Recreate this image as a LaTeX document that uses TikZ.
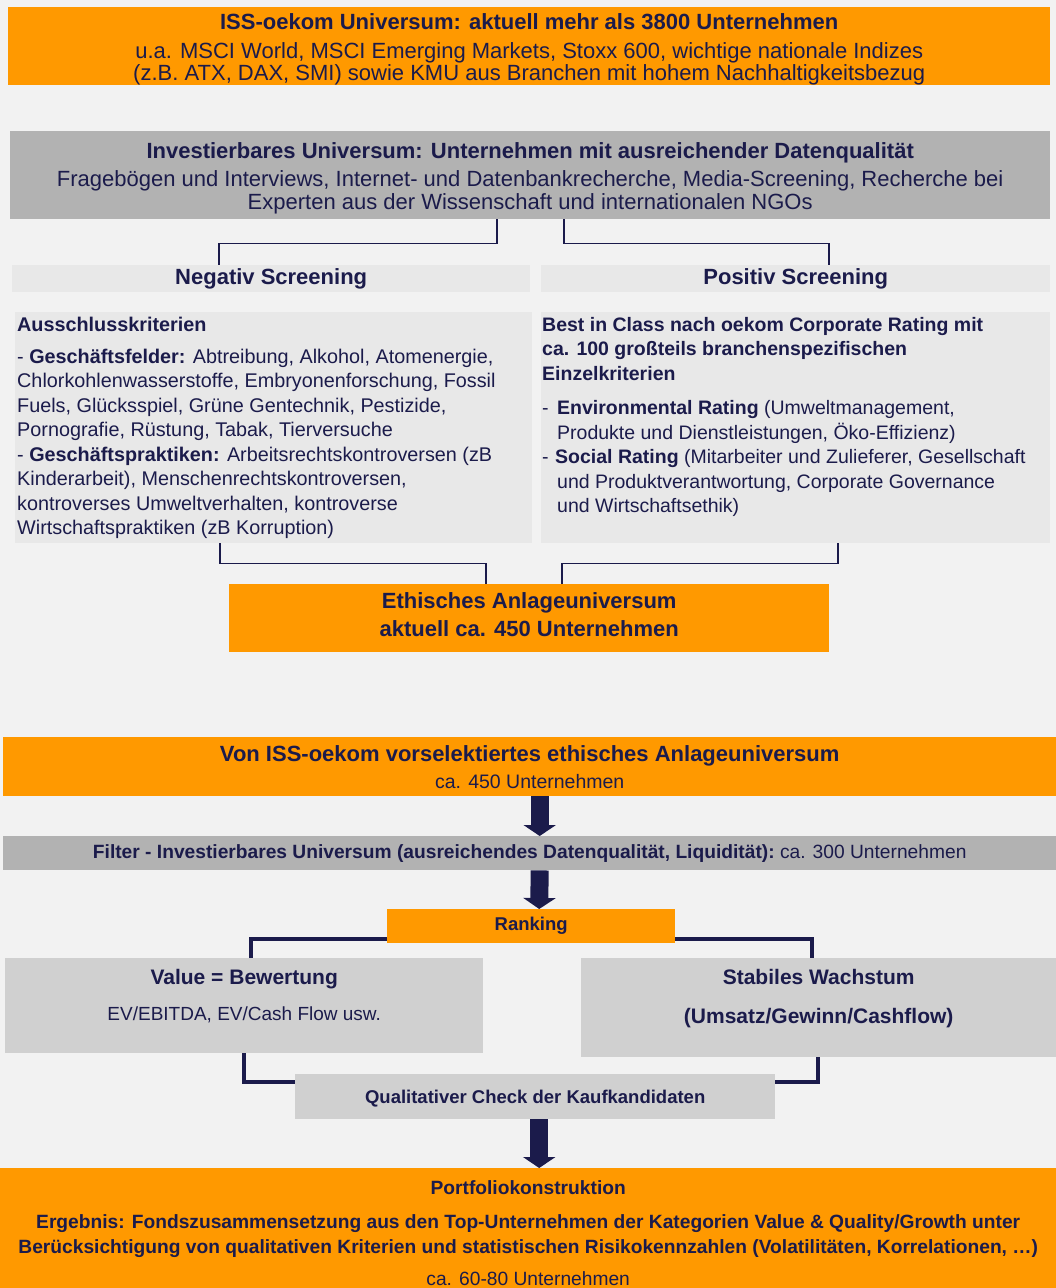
\documentclass[tikz,border=0pt]{standalone}
\usepackage{fontspec}
\setmainfont{Liberation Sans}
\usetikzlibrary{arrows.meta,calc}
\definecolor{org}{HTML}{FF9900}
\definecolor{gA}{HTML}{B2B2B2}
\definecolor{gL}{HTML}{E8E8E8}
\definecolor{gM}{HTML}{D0D0D0}
\definecolor{bgc}{HTML}{F2F2F2}
\definecolor{navy}{HTML}{1B1B4B}
\newcommand\fsz[2]{\fontsize{#1}{#2}\selectfont}
\begin{document}
\begin{tikzpicture}[x=1pt,y=-1pt,
  box/.style={anchor=north west, inner sep=0pt, text=navy, align=center},
  lbl/.style={inner sep=0pt, text=navy},
  thinline/.style={draw=navy, line width=1.8pt},
  thickline/.style={draw=navy, line width=4pt},
  bigarrow/.style={draw=navy, line width=18pt, -{Triangle[width=32pt,length=11pt]}}]
\fill[bgc] (0,0) rectangle (1056,1288);
\useasboundingbox (0,0) rectangle (1056,1288);

% ---------- upper part ----------
\node[box, fill=org, minimum width=1042, minimum height=78] (iss) at (8,7) {};
\node[lbl, align=center, font=\fsz{22}{22}] (isstxt) at ($(iss.center)+(0,3)$)
 {\bfseries ISS-oekom Universum: aktuell mehr als 3800 Unternehmen\\[7pt]
  u.a. MSCI World, MSCI Emerging Markets, Stoxx 600, wichtige nationale Indizes\\
  (z.B. ATX, DAX, SMI) sowie KMU aus Branchen mit hohem Nachhaltigkeitsbezug};

\node[box, fill=gA, minimum width=1040, minimum height=88] (inv) at (10,131) {};
\node[lbl, align=center, font=\fsz{22}{23}] (invtxt) at ($(inv.center)+(0,3)$)
 {\bfseries Investierbares Universum: Unternehmen mit ausreichender Datenqualität\\[5pt]
  Fragebögen und Interviews, Internet- und Datenbankrecherche, Media-Screening, Recherche bei\\
  Experten aus der Wissenschaft und internationalen NGOs};

\node[box, fill=gL, minimum width=518, minimum height=27, font=\fsz{22}{24}\bfseries] (neghead) at (12,265)
 {Negativ Screening};
\node[box, fill=gL, minimum width=509, minimum height=27, font=\fsz{22}{24}\bfseries] (poshead) at (541,265)
 {Positiv Screening};

\node[box, fill=gL, minimum width=517, minimum height=231] (negbox) at (15,312) {};
\node[lbl, anchor=north west, align=left, font=\fsz{19.8}{24.5}] (negtxt) at (17,317)
 {\textbf{Ausschlusskriterien}\\[7pt]
  - \textbf{Geschäftsfelder:} Abtreibung, Alkohol, Atomenergie,\\
  Chlorkohlenwasserstoffe, Embryonenforschung, Fossil\\
  Fuels, Glücksspiel, Grüne Gentechnik, Pestizide,\\
  Pornografie, Rüstung, Tabak, Tierversuche\\
  - \textbf{Geschäftspraktiken:} Arbeitsrechtskontroversen (zB\\
  Kinderarbeit), Menschenrechtskontroversen,\\
  kontroverses Umweltverhalten, kontroverse\\
  Wirtschaftspraktiken (zB Korruption)};

\node[box, fill=gL, minimum width=509, minimum height=231] (posbox) at (541,312) {};
\node[lbl, anchor=north west, align=left, font=\fsz{19.5}{24.5}] (postxt) at (542,317)
 {\textbf{Best in Class nach oekom Corporate Rating mit}\\
  \textbf{ca. 100 großteils branchenspezifischen}\\
  \textbf{Einzelkriterien}\\[10pt]
  \makebox[15pt][l]{-}\textbf{Environmental Rating} (Umweltmanagement,\\
  \hspace*{15pt}Produkte und Dienstleistungen, Öko-Effizienz)\\
  \makebox[13pt][l]{-}\textbf{Social Rating} (Mitarbeiter und Zulieferer, Gesellschaft\\
  \hspace*{15pt}und Produktverantwortung, Corporate Governance\\
  \hspace*{15pt}und Wirtschaftsethik)};

\node[box, fill=org, minimum width=600, minimum height=68] (eth) at (229,584) {};
\node[lbl, align=center, font=\fsz{22}{28}\bfseries] (ethtxt) at ($(eth.center)+(0,-4)$)
 {Ethisches Anlageuniversum\\aktuell ca. 450 Unternehmen};

\draw[thinline] ($(inv.south)+(-33,0)$) -- ++(0,24) -| ($(neghead.north)+(-52,0)$);
\draw[thinline] ($(inv.south)+(34,0)$) -- ++(0,24) -| ($(poshead.north)+(33,0)$);
\draw[thinline] ($(negbox.south)+(-53.5,0)$) -- ++(0,20) -| ($(eth.north)+(-43,0)$);
\draw[thinline] ($(posbox.south)+(42.5,0)$) -- ++(0,20) -| ($(eth.north)+(33,0)$);

% ---------- lower part ----------
\node[box, fill=org, minimum width=1053, minimum height=59, font=\fsz{19.5}{22}] (von) at (3,737)
 {\fsz{22}{22}\bfseries Von ISS-oekom vorselektiertes ethisches Anlageuniversum\\[5pt]
  ca. 450 Unternehmen};

\node[box, fill=gA, minimum width=1053, minimum height=34] (filter) at (3,836)
 {\fsz{19.2}{20}\bfseries Filter - Investierbares Universum (ausreichendes Datenqualität, Liquidität):\mdseries\ ca. 300 Unternehmen};

\node[box, fill=org, minimum width=288, minimum height=34, font=\fsz{18.5}{20}\bfseries] (rank) at (387,909)
 {Ranking};

\node[box, fill=gM, minimum width=478, minimum height=95] (value) at (5,958) {};
\node[lbl, anchor=north, align=center, font=\fsz{19}{22}] (valtxt) at ($(value.north)+(0,11)$)
 {\fsz{21}{22}\bfseries Value = Bewertung\\[14pt]EV/EBITDA, EV/Cash Flow usw.};

\node[box, fill=gM, minimum width=475, minimum height=99] (stab) at (581,958) {};
\node[lbl, anchor=north, align=center, font=\fsz{21}{22}\bfseries] (stabtxt) at ($(stab.north)+(0,11)$)
 {Stabiles Wachstum\\[17pt](Umsatz/Gewinn/Cashflow)};

\node[box, fill=gM, minimum width=480, minimum height=45] (qual) at (295,1074) {};
\node[lbl, font=\fsz{18.5}{20}\bfseries] (qualtxt) at ($(qual.center)+(0,2)$)
 {Qualitativer Check der Kaufkandidaten};

\node[box, fill=org, minimum width=1056, minimum height=120] (port) at (0,1168) {};
\node[lbl, anchor=north, align=center, font=\fsz{19.2}{25}\bfseries] (porttxt) at ($(port.north)+(0,12)$)
 {Portfoliokonstruktion\\[9pt]
  Ergebnis: Fondszusammensetzung aus den Top-Unternehmen der Kategorien Value \& Quality/Growth unter\\
  Berücksichtigung von qualitativen Kriterien und statistischen Risikokennzahlen (Volatilitäten, Korrelationen, …)\\[7pt]
  \mdseries ca. 60-80 Unternehmen};

\draw[bigarrow] ($(von.south)+(10,0)$) -- ($(filter.north)+(10,0)$);
\draw[bigarrow] ($(filter.south)+(10,0)$) -- ($(rank.north)+(8,0)$);
\draw[bigarrow] ($(qual.south)+(4,0)$) -- ($(port.north)+(11,0)$);

\draw[thickline] ($(rank.west)+(0,13)$) -| ($(value.north)+(6.5,0)$);
\draw[thickline] ($(rank.east)+(0,13)$) -| ($(stab.north)+(-7,0)$);
\draw[thickline] (value.south) |- ($(qual.west)+(0,-14.5)$);
\draw[thickline] ($(stab.south)+(-0.5,0)$) |- ($(qual.east)+(0,-14.5)$);
\end{tikzpicture}
\end{document}
